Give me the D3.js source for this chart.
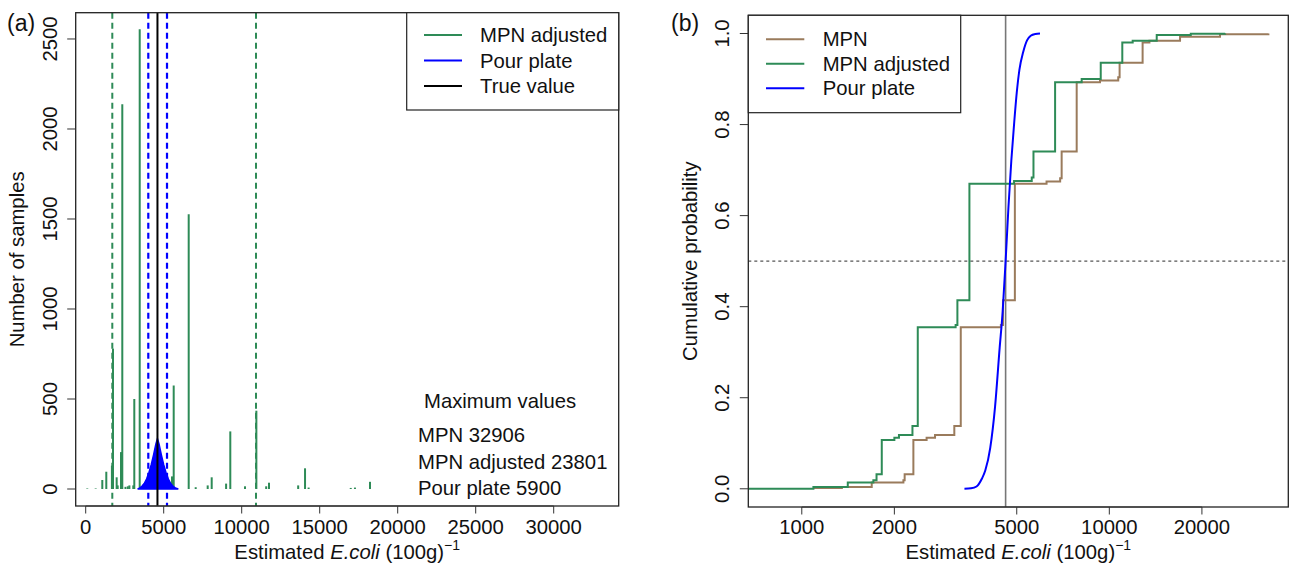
<!DOCTYPE html>
<html>
<head>
<meta charset="utf-8">
<script src="https://cdn.jsdelivr.net/npm/d3@7"></script>
<style>
  body { margin: 0; background: #fff; }
  svg { display: block; font-family: "Liberation Sans", Arial, sans-serif; }
</style>
</head>
<body>
<svg id="chart" width="1296" height="571"></svg>
<script>
// (a) histogram of MPN adjusted estimates (value, number of samples)
const adjValues = [100, 640, 1064, 1320, 1680, 1750, 1985, 2050, 2263, 2346, 2550, 2700, 2800, 3050, 3115, 3462,
  5532, 5641, 6603, 7051, 7820, 8077, 9000, 9269, 10212, 10940, 11570, 11750, 13620, 14060, 14290,
  16990, 17260, 18225, 23801];
const adjCounts = [3, 3, 50, 96, 130, 780, 65, 20, 205, 2137, 12, 15, 20, 20, 500, 2554,
  70, 575, 1526, 10, 20, 65, 30, 320, 15, 435, 15, 35, 20, 115, 8,
  6, 8, 40, 3];

// pour plate estimates, counts
const pourValues = [3330, 3450, 3600, 3750, 3900, 4050, 4200, 4350, 4500, 4600, 4700, 4850, 5000, 5150,
  5300, 5450, 5600, 5750, 5936];
const pourCounts = [0, 5, 15, 30, 55, 90, 135, 190, 250, 280, 250, 190, 135, 90,
  55, 30, 15, 6, 0];

const adjInterval = [1705, 10917];
const pourInterval = [4013, 5212];
const trueValue = 4600;

const maxLabels = ['MPN', 'MPN adjusted', 'Pour plate'];
const maxValues = [32906, 23801, 5900];

// (b) cumulative distributions
const mpnX = [1091, 1350, 1688, 2140, 2160, 2306, 2546, 2712, 3133, 3288, 4440, 4510, 4930, 6250, 6920, 6998,
  7832, 9326, 10690, 10800, 12830, 13500, 16980, 22900, 32906];
const mpnP = [0.002, 0.004, 0.014, 0.019, 0.032, 0.107, 0.112, 0.118, 0.138, 0.355, 0.360, 0.414, 0.670, 0.675, 0.682, 0.741,
  0.893, 0.897, 0.904, 0.936, 0.980, 0.984, 0.993, 0.9985, 1.0];

const adjX = [670, 1091, 1411, 1709, 1750, 1820, 2000, 2070, 2290, 2383, 3164, 3206, 3508, 4900, 5594, 5667,
  6663, 8130, 9377, 11020, 11910, 14260, 18400, 23801];
const adjP = [0, 0.004, 0.014, 0.019, 0.032, 0.107, 0.112, 0.118, 0.138, 0.355, 0.360, 0.414, 0.670, 0.676, 0.684, 0.741,
  0.893, 0.900, 0.936, 0.980, 0.984, 0.997, 0.9995, 1.0];

const pourCdfX = [3380, 3550, 3700, 3850, 3950, 4100, 4250, 4400, 4500, 4600, 4700, 4800, 4900, 5000, 5100, 5250,
  5400, 5550, 5750, 5950];
const pourCdfP = [0, 0.001, 0.005, 0.022, 0.04, 0.09, 0.18, 0.31, 0.39, 0.50, 0.62, 0.72, 0.80, 0.87, 0.92, 0.96,
  0.985, 0.995, 0.999, 1.0];

const xTicksA = [0, 5000, 10000, 15000, 20000, 25000, 30000];
const yTicksA = [0, 500, 1000, 1500, 2000, 2500];
const xTicksB = [1000, 2000, 5000, 10000, 20000];
const yTicksB = [0, 0.2, 0.4, 0.6, 0.8, 1.0];

const GREEN = '#2e8b57';
const BROWN = '#9a7b5c';
const BLUE = '#0000ff';
const FONT = 20.3;

const svg = d3.select('#chart');

// ---------- panel (a) ----------
const boxA = { left: 75.7, right: 618.7, top: 12.7, bottom: 506 };
const xA = d3.scaleLinear().domain([-641, 34167]).range([boxA.left, boxA.right]);
const yA = d3.scaleLinear().domain([-94.4, 2646]).range([boxA.bottom, boxA.top]);

const gA = svg.append('g');

function xAxisLabel(g, cx) {
  const t = g.append('text')
    .attr('x', cx).attr('y', 559)
    .attr('text-anchor', 'middle')
    .attr('font-size', FONT)
    .attr('fill', '#111');
  t.append('tspan').text('Estimated ');
  t.append('tspan').attr('font-style', 'italic').text('E.coli');
  t.append('tspan').text(' (100g)');
  t.append('tspan').attr('font-size', 14).attr('dy', -9).text('\u22121');
}

function drawAxes(g, box, x, y, xTicks, yTicks, yFmt) {
  // bottom axis, R style: line spans first..last tick
  g.append('line')
    .attr('x1', x(xTicks[0])).attr('x2', x(xTicks[xTicks.length - 1]))
    .attr('y1', box.bottom).attr('y2', box.bottom)
    .attr('stroke', '#333');
  g.selectAll('.xt').data(xTicks).enter().append('line')
    .attr('x1', d => x(d)).attr('x2', d => x(d))
    .attr('y1', box.bottom).attr('y2', box.bottom + 7.5)
    .attr('stroke', '#333');
  g.selectAll('.xl').data(xTicks).enter().append('text')
    .attr('x', d => x(d)).attr('y', 534)
    .attr('text-anchor', 'middle')
    .attr('font-size', FONT).attr('fill', '#111')
    .text(d => d);

  g.selectAll('.yt').data(yTicks).enter().append('line')
    .attr('x1', box.left - 8.5).attr('x2', box.left)
    .attr('y1', d => y(d)).attr('y2', d => y(d))
    .attr('stroke', '#333');
  g.selectAll('.yl').data(yTicks).enter().append('text')
    .attr('transform', d => 'translate(' + (box.left - 19) + ',' + y(d) + ') rotate(-90)')
    .attr('text-anchor', 'middle')
    .attr('font-size', FONT).attr('fill', '#111')
    .text(yFmt);
}

// histogram lines
gA.append('g')
  .selectAll('line')
  .data(adjValues.map((v, i) => [v, adjCounts[i]]))
  .enter()
  .append('line')
  .attr('x1', d => xA(d[0])).attr('x2', d => xA(d[0]))
  .attr('y1', yA(0)).attr('y2', d => yA(d[1]))
  .attr('stroke', GREEN)
  .attr('stroke-width', 2);

// pour plate distribution (dense lines drawn as a filled outline)
const pourArea = d3.area()
  .x(d => xA(d[0]))
  .y0(yA(0))
  .y1(d => yA(d[1]))
  .curve(d3.curveLinear);
gA.append('path')
  .datum(pourValues.map((v, i) => [v, pourCounts[i]]))
  .attr('d', pourArea)
  .attr('fill', BLUE)
  .attr('stroke', BLUE)
  .attr('stroke-width', 1.5);

// interval and true value lines
adjInterval.forEach(v => {
  gA.append('line')
    .attr('x1', xA(v)).attr('x2', xA(v))
    .attr('y1', boxA.top).attr('y2', boxA.bottom)
    .attr('stroke', GREEN).attr('stroke-width', 2)
    .attr('stroke-dasharray', '6,4');
});
pourInterval.forEach(v => {
  gA.append('line')
    .attr('x1', xA(v)).attr('x2', xA(v))
    .attr('y1', boxA.top).attr('y2', boxA.bottom)
    .attr('stroke', BLUE).attr('stroke-width', 2.2)
    .attr('stroke-dasharray', '6,4');
});
gA.append('line')
  .attr('x1', xA(trueValue)).attr('x2', xA(trueValue))
  .attr('y1', boxA.top).attr('y2', boxA.bottom)
  .attr('stroke', '#000').attr('stroke-width', 2);

gA.append('rect')
  .attr('x', boxA.left).attr('y', boxA.top)
  .attr('width', boxA.right - boxA.left).attr('height', boxA.bottom - boxA.top)
  .attr('fill', 'none').attr('stroke', '#222').attr('stroke-width', 1.3);

drawAxes(gA, boxA, xA, yA, xTicksA, yTicksA, d => d);

// legend (a)
const legA = gA.append('g');
legA.append('rect')
  .attr('x', 406.7).attr('y', boxA.top)
  .attr('width', boxA.right - 406.7).attr('height', 110 - boxA.top)
  .attr('fill', '#fff').attr('stroke', '#222').attr('stroke-width', 1.2);
[['MPN adjusted', GREEN], ['Pour plate', BLUE], ['True value', '#000']].forEach((e, i) => {
  const yy = 35 + i * 25.5;
  legA.append('line')
    .attr('x1', 424).attr('x2', 462).attr('y1', yy).attr('y2', yy)
    .attr('stroke', e[1]).attr('stroke-width', 2);
  legA.append('text')
    .attr('x', 480).attr('y', yy + 7)
    .attr('font-size', FONT).attr('fill', '#111')
    .text(e[0]);
});

// maximum values note
gA.append('text')
  .attr('x', 424).attr('y', 408)
  .attr('font-size', FONT).attr('fill', '#111')
  .text('Maximum values');
maxLabels.forEach((l, i) => {
  gA.append('text')
    .attr('x', 418).attr('y', 442 + i * 26.5)
    .attr('font-size', FONT).attr('fill', '#111')
    .text(l + ' ' + maxValues[i]);
});

gA.append('text')
  .attr('transform', 'translate(24,' + ((boxA.top + boxA.bottom) / 2) + ') rotate(-90)')
  .attr('text-anchor', 'middle')
  .attr('font-size', FONT).attr('fill', '#111')
  .text('Number of samples');
xAxisLabel(gA, (boxA.left + boxA.right) / 2);

gA.append('text')
  .attr('x', 7).attr('y', 31)
  .attr('font-size', 23).attr('fill', '#111')
  .text('(a)');

// ---------- panel (b) ----------
const boxB = { left: 748.3, right: 1288.3, top: 15.3, bottom: 507 };
const xB = d3.scaleLog().domain([670, 38190]).range([boxB.left, boxB.right]);
const yB = d3.scaleLinear().domain([-0.04, 1.04]).range([boxB.bottom, boxB.top]);

const gB = svg.append('g');

gB.append('defs').append('clipPath').attr('id', 'clipB')
  .append('rect')
  .attr('x', boxB.left).attr('y', boxB.top)
  .attr('width', boxB.right - boxB.left).attr('height', boxB.bottom - boxB.top);

const plotB = gB.append('g').attr('clip-path', 'url(#clipB)');

// reference lines
plotB.append('line')
  .attr('x1', boxB.left).attr('x2', boxB.right)
  .attr('y1', yB(0.5)).attr('y2', yB(0.5))
  .attr('stroke', '#555').attr('stroke-width', 1.2)
  .attr('stroke-dasharray', '3,3');
plotB.append('line')
  .attr('x1', xB(trueValue)).attr('x2', xB(trueValue))
  .attr('y1', boxB.top).attr('y2', boxB.bottom)
  .attr('stroke', '#777').attr('stroke-width', 1.6);

const stepLine = d3.line()
  .x(d => xB(d[0]))
  .y(d => yB(d[1]))
  .curve(d3.curveStepAfter);

plotB.append('path')
  .datum(mpnX.map((v, i) => [v, mpnP[i]]))
  .attr('d', stepLine)
  .attr('fill', 'none').attr('stroke', BROWN).attr('stroke-width', 2);

plotB.append('path')
  .datum(adjX.map((v, i) => [v, adjP[i]]))
  .attr('d', stepLine)
  .attr('fill', 'none').attr('stroke', GREEN).attr('stroke-width', 2);

plotB.append('path')
  .datum(pourCdfX.map((v, i) => [v, pourCdfP[i]]))
  .attr('d', d3.line().x(d => xB(d[0])).y(d => yB(d[1])).curve(d3.curveMonotoneX))
  .attr('fill', 'none').attr('stroke', BLUE).attr('stroke-width', 2);

gB.append('rect')
  .attr('x', boxB.left).attr('y', boxB.top)
  .attr('width', boxB.right - boxB.left).attr('height', boxB.bottom - boxB.top)
  .attr('fill', 'none').attr('stroke', '#222').attr('stroke-width', 1.3);

drawAxes(gB, boxB, xB, yB, xTicksB, yTicksB, d => d.toFixed(1));

// legend (b)
const legB = gB.append('g');
legB.append('rect')
  .attr('x', boxB.left).attr('y', boxB.top)
  .attr('width', 960.7 - boxB.left).attr('height', 112.7 - boxB.top)
  .attr('fill', '#fff').attr('stroke', '#222').attr('stroke-width', 1.2);
[['MPN', BROWN], ['MPN adjusted', GREEN], ['Pour plate', BLUE]].forEach((e, i) => {
  const yy = 39.3 + i * 24.5;
  legB.append('line')
    .attr('x1', 766).attr('x2', 804.3).attr('y1', yy).attr('y2', yy)
    .attr('stroke', e[1]).attr('stroke-width', 2);
  legB.append('text')
    .attr('x', 822.7).attr('y', yy + 7)
    .attr('font-size', FONT).attr('fill', '#111')
    .text(e[0]);
});

gB.append('text')
  .attr('transform', 'translate(697,' + ((boxB.top + boxB.bottom) / 2) + ') rotate(-90)')
  .attr('text-anchor', 'middle')
  .attr('font-size', FONT).attr('fill', '#111')
  .text('Cumulative probability');
xAxisLabel(gB, (boxB.left + boxB.right) / 2);

gB.append('text')
  .attr('x', 671).attr('y', 31)
  .attr('font-size', 23).attr('fill', '#111')
  .text('(b)');
</script>
</body>
</html>
